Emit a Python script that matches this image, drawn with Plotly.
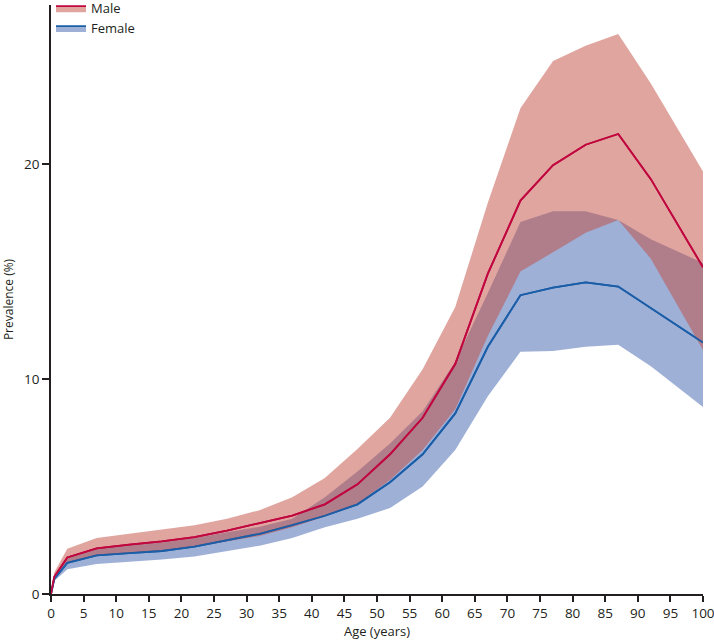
import plotly.graph_objects as go

ages = [0, 0.5, 2.5, 7, 12, 17, 22, 27, 32, 37, 42, 47, 52, 57, 62, 67, 72, 77, 82, 87, 92, 100]

male_mean = [0, 0.8, 1.7, 2.12, 2.3, 2.45, 2.65, 2.95, 3.3, 3.65, 4.17, 5.1, 6.5, 8.2, 10.7, 14.9, 18.3, 19.95, 20.9, 21.4, 19.3, 15.2]
male_upper = [0, 1.0, 2.1, 2.6, 2.8, 3.0, 3.2, 3.5, 3.9, 4.5, 5.4, 6.75, 8.2, 10.45, 13.35, 18.2, 22.6, 24.8, 25.5, 26.05, 23.75, 19.65]
male_lower = [0, 0.7, 1.45, 1.8, 1.9, 2.0, 2.2, 2.45, 2.7, 3.1, 3.6, 4.2, 5.3, 6.7, 8.6, 12.0, 15.0, 15.9, 16.8, 17.4, 15.6, 11.35]

female_mean = [0, 0.7, 1.45, 1.8, 1.9, 2.0, 2.2, 2.5, 2.8, 3.2, 3.64, 4.17, 5.2, 6.5, 8.4, 11.5, 13.9, 14.25, 14.5, 14.3, 13.3, 11.7]
female_upper = [0, 0.85, 1.75, 2.1, 2.3, 2.4, 2.6, 2.85, 3.13, 3.5, 4.5, 5.7, 7.0, 8.5, 10.8, 14.0, 17.3, 17.8, 17.8, 17.4, 16.5, 15.4]
female_lower = [0, 0.6, 1.15, 1.4, 1.5, 1.6, 1.75, 2.0, 2.25, 2.6, 3.1, 3.5, 4.0, 5.0, 6.7, 9.2, 11.27, 11.3, 11.5, 11.6, 10.6, 8.7]

x_ticks = list(range(0, 101, 5))
y_ticks = [0, 10, 20]

MALE_LINE = "#C0073F"
FEMALE_LINE = "#1B5EA8"
MALE_FILL = "rgba(193,75,63,0.5)"
FEMALE_FILL = "rgba(63,97,175,0.5)"
FONT = "Open Sans"

fig = go.Figure()


def add_band(lower, mean, upper, name, line_color, fill_color, rank):
    fig.add_trace(go.Scatter(x=ages, y=lower, mode="lines", line=dict(width=0),
                             showlegend=False, hoverinfo="skip"))
    fig.add_trace(go.Scatter(x=ages, y=mean, mode="lines", name=name,
                             line=dict(color=line_color, width=1.8),
                             fill="tonexty", fillcolor=fill_color, legendrank=rank))
    fig.add_trace(go.Scatter(x=ages, y=upper, mode="lines", line=dict(width=0),
                             fill="tonexty", fillcolor=fill_color,
                             showlegend=False, hoverinfo="skip"))


add_band(female_lower, female_mean, female_upper, "Female", FEMALE_LINE, FEMALE_FILL, 2)
add_band(male_lower, male_mean, male_upper, "Male", MALE_LINE, MALE_FILL, 1)

# redraw mean lines on top of all fills
fig.add_trace(go.Scatter(x=ages, y=female_mean, mode="lines",
                         line=dict(color=FEMALE_LINE, width=1.8), showlegend=False))
fig.add_trace(go.Scatter(x=ages, y=male_mean, mode="lines",
                         line=dict(color=MALE_LINE, width=1.8), showlegend=False))

axis_color = "#231F20"
fig.update_layout(
    width=714, height=644,
    margin=dict(l=51, r=11, t=5, b=50, autoexpand=False),
    plot_bgcolor="white", paper_bgcolor="white",
    font=dict(family=FONT, size=13, color="#231F20"),
    showlegend=True,
    legend=dict(x=0.0, y=1.02, xanchor="left", yanchor="top",
                traceorder="normal",
                bgcolor="rgba(0,0,0,0)", font=dict(size=13),
                tracegroupgap=0, itemwidth=30),
    xaxis=dict(range=[0, 100], tickvals=x_ticks, ticks="outside", ticklen=6,
               tickwidth=1.5, tickcolor=axis_color, showline=True, linecolor=axis_color,
               linewidth=1.8, showgrid=False, zeroline=False, automargin=False,
               ticklabeloverflow="allow", tickfont=dict(size=13.5),
               title=dict(text="Age (years)", font=dict(size=13), standoff=6)),
    yaxis=dict(range=[0, 27.4], tickvals=y_ticks, ticks="outside", ticklen=7,
               tickwidth=1.5, tickcolor=axis_color, showline=True, linecolor=axis_color,
               linewidth=1.8, showgrid=False, zeroline=False, automargin=False,
               tickfont=dict(size=13.5),
               title=dict(text="Prevalence (%)", font=dict(size=12), standoff=10)),
)

fig.write_html("out.html", config={"displayModeBar": False},
               post_script="document.body.style.margin='0';document.body.style.padding='0';")
